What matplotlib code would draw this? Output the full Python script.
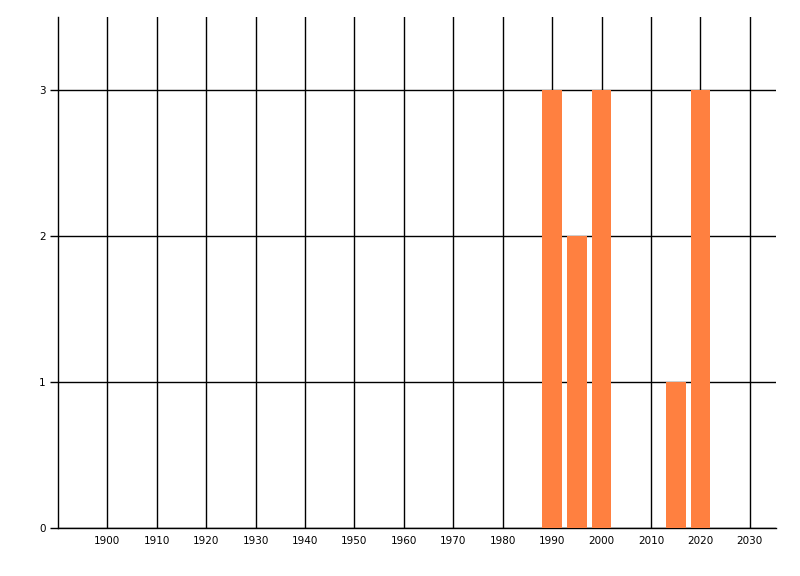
import numpy as np
import matplotlib
matplotlib.use('Agg')
import matplotlib.pyplot as plt

years = [1990, 1995, 2000, 2015, 2020]
counts = [3, 2, 3, 1, 3]
x_ticks = list(range(1900, 2031, 10))
y_ticks = [0, 1, 2, 3]

fig = plt.figure(figsize=(8, 5.76), dpi=100)
ax = fig.add_axes([58 / 800, 1 - 528 / 576, (776 - 58) / 800, (528 - 17) / 576])

ax.set_axisbelow(True)
ax.grid(True, color='black', linewidth=1)
ax.bar(years, counts, width=4, color='#FF8040', zorder=3)

ax.set_xlim(1890, 2035.3)
ax.set_ylim(0, 3.5)
ax.set_xticks(x_ticks)
ax.set_yticks(y_ticks)
ax.tick_params(axis='x', length=0, pad=6, labelsize=7.5)
ax.tick_params(axis='y', length=6, width=1, pad=3, labelsize=7.5)

for s in ['top', 'right']:
    ax.spines[s].set_visible(False)
for s in ['left', 'bottom']:
    ax.spines[s].set_linewidth(1)

fig.savefig('out.png', dpi=100)
